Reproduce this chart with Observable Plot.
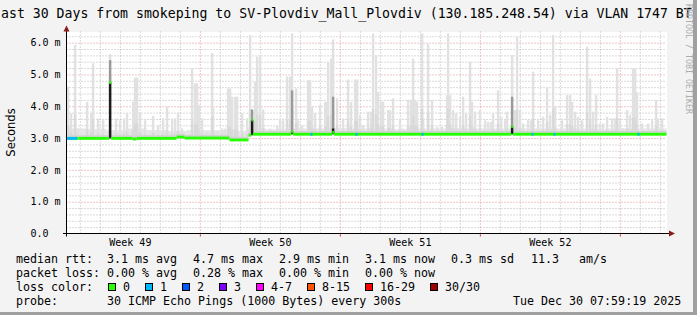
<!DOCTYPE html>
<html><head><meta charset="utf-8">
<script src="https://cdn.jsdelivr.net/npm/d3@7"></script>
<script src="https://cdn.jsdelivr.net/npm/@observablehq/plot@0.6"></script>
<style>
html,body{margin:0;padding:0;background:#f3f3f3}
#wrap{position:relative;width:697px;height:315px;background:#f3f3f3;overflow:hidden}
#wrap svg{position:absolute;left:0;top:0}
#bR{position:absolute;right:0;top:0;width:4px;height:315px;background:#a0a0a0}
#bB{position:absolute;left:0;bottom:0;width:697px;height:3px;background:#a0a0a0}
</style></head><body><div id="wrap"></div><script>
// ---------- data ----------
const titleText = "ast 30 Days from smokeping to SV-Plovdiv_Mall_Plovdiv (130.185.248.54) via VLAN 1747 BT";
const watermark = "RRDTOOL / TOBI OETIKER";
const yAxisTitle = "Seconds";
const startTime = "2025-11-30T07:59:19Z";
const endTime = "2025-12-30T07:59:19Z";
const yMajorTicks = [0, 1, 2, 3, 4, 5, 6];
const yTickLabels = ["0.0", "1.0 m", "2.0 m", "3.0 m", "4.0 m", "5.0 m", "6.0 m"];
const weekLabels = ["Week 49", "Week 50", "Week 51", "Week 52"];
const weekStarts = ["2025-11-30", "2025-12-07", "2025-12-14", "2025-12-21", "2025-12-28"];

// median rtt (ms), piecewise constant: day offset from start -> value
const medianStart = [0, 0.6, 2.13, 2.23, 3.3, 3.5, 5.5, 5.9, 8.15, 9.1, 9.24, 9.32, 11.24, 11.32, 13.29, 13.37, 22.24, 22.32];
const medianValue = [2.99, 2.99, 4.75, 2.99, 2.97, 2.99, 3.03, 3.0, 2.94, 3.09, 3.57, 3.12, 3.2, 3.12, 3.18, 3.12, 3.36, 3.12];

// intervals with 1 lost ping (day offsets)
const lossStart = [0.03, 12.2, 14.45, 17.75, 23.25, 24.35, 28.55];
const lossEnd   = [0.53, 12.3, 14.55, 17.85, 23.35, 24.45, 28.65];

// smoke spikes: day offset and max rtt (ms)
const spikeDay = [0.08,0.23,0.43,0.58,1.03,1.23,1.33,1.58,1.83,2.18,2.48,2.68,2.88,3.03,3.33,3.43,3.53,3.68,3.93,4.33,4.58,4.83,5.03,5.28,5.43,5.58,5.78,6.28,6.43,6.53,6.63,6.78,7.03,7.28,7.33,7.53,7.78,7.93,8.08,8.18,8.28,8.43,8.53,8.78,9.03,9.18,9.43,9.53,9.68,9.83,10.18,10.53,10.68,10.83,11.03,11.18,11.28,11.48,11.58,11.78,12.08,12.18,12.28,12.43,12.68,12.93,13.03,13.08,13.23,13.33,13.53,13.83,14.08,14.23,14.43,14.53,14.68,14.83,15.08,15.23,15.33,15.48,15.58,15.73,15.83,16.08,16.18,16.33,16.68,16.83,17.08,17.23,17.33,17.43,17.53,17.78,17.83,18.08,18.28,18.53,18.78,19.03,19.08,19.18,19.33,19.48,19.68,19.83,19.98,20.18,20.28,20.43,20.68,20.93,21.08,21.23,21.33,21.58,21.73,21.93,22.03,22.28,22.43,22.53,22.68,22.83,23.08,23.23,23.33,23.58,23.83,24.03,24.18,24.33,24.43,24.78,25.03,25.18,25.28,25.43,25.58,25.78,26.03,26.18,26.33,26.48,26.68,26.83,27.03,27.28,27.43,27.53,27.68,27.83,28.03,28.18,28.33,28.43,28.53,28.78,29.08,29.28,29.48,29.58,29.78];
const spikeMax = [4.62,3.78,5.93,3.3,4.14,3.78,5.35,3.62,3.56,5.64,3.62,3.56,3.62,3.78,4.14,4.9,4.9,3.78,3.56,3.7,3.4,3.62,3.99,3.62,3.62,3.8,3.3,5.19,4.72,4.72,4.04,3.62,3.2,5.67,3.95,3.2,3.3,3.3,4.56,4.56,4.3,4.3,4.3,3.78,3.62,6.24,4.77,5.56,5.56,3.9,3.3,3.4,3.62,3.56,4.93,4.93,6.29,4.56,3.56,3.4,4.82,4.82,3.99,3.78,4.04,4.14,4.14,5.4,5.5,6.1,4.25,3.62,4.84,4.14,4.84,4.84,3.73,3.41,3.83,3.83,6.29,5.61,4.45,4.14,4.14,3.88,3.88,4.25,3.62,3.3,4.2,4.2,5.5,4.2,4.14,6.29,3.62,5.95,4.2,3.35,3.35,4.35,6.29,4.35,3.88,3.78,3.67,4.3,3.78,5.4,4.14,3.83,3.88,3.56,3.51,3.51,3.78,4.5,3.67,3.56,3.83,5.61,3.88,6.19,3.88,3.46,3.56,3.56,5.09,3.56,3.67,4.61,3.73,6.24,3.99,3.56,4.35,4.35,4.14,3.83,3.67,3.56,5.87,4.87,3.83,4.35,3.46,3.46,3.67,3.62,3.62,5.19,3.56,3.3,3.88,3.73,5.19,5.19,4.45,3.46,3.46,3.56,4.2,3.62,3.62];

// low smoke level per day (ms)
const baseSmokeTop = [3.3,3.28,3.25,3.3,3.25,3.22,3.25,3.25,3.22,3.3,3.28,3.3,3.3,3.32,3.3,3.3,3.28,3.3,3.3,3.32,3.3,3.3,3.3,3.3,3.3,3.3,3.28,3.3,3.3,3.3];

// dense (dark) smoke columns
const denseDay = [2.18, 9.28, 11.28, 13.33, 22.28];
const denseTop = [4.75, 3.57, 3.2, 3.3, 3.36];
const denseMid = [5.45, 3.9, 4.5, 4.3, 4.3];

// legend
const lossLabels = ["0", "1", "2", "3", "4-7", "8-15", "16-29", "30/30"];
const lossColors = ["#26ff00", "#00b8ff", "#0059ff", "#7e00ff", "#ff00ff", "#ff5500", "#ff0000", "#a10000"];
const rttStats = ["3.1 ms avg", "4.7 ms max", "2.9 ms min", "3.1 ms now", "0.3 ms sd"];
const rttAms = ["11.3", "am/s"];
const lossStats = ["0.00 % avg", "0.28 % max", "0.00 % min", "0.00 % now"];
const probeText = "30 ICMP Echo Pings (1000 Bytes) every 300s";
const dateText = "Tue Dec 30 07:59:19 2025";

// ---------- build ----------
const DAY = 864e5;
const T0 = new Date(startTime), T1 = new Date(endTime);
const at = d => new Date(+T0 + d * DAY);
function medianAt(d) {
  let v = medianValue[0];
  for (let i = 0; i < medianStart.length; i++) if (medianStart[i] <= d) v = medianValue[i];
  return v;
}
const medianSegs = medianStart.map((s, i) => ({s, e: i + 1 < medianStart.length ? medianStart[i + 1] : 30, v: medianValue[i]}));
const lossSegs = lossStart.map((s, i) => ({s, e: lossEnd[i], v: medianAt((s + lossEnd[i]) / 2)}));
const spikes = spikeDay.map((d, i) => ({d, max: spikeMax[i], med: medianAt(d)}));
const baseSmoke = baseSmokeTop.map((t, i) => ({s: i, e: i + 1, top: t}));
const dense = denseDay.map((d, i) => ({d, top: denseTop[i], mid: denseMid[i], base: medianAt(d - 0.12)}));

const yMinor = d3.range(0.2, 6.35, 0.2).filter(v => Math.abs(v - Math.round(v)) > 0.05);
const weekLines = weekStarts.map(s => new Date(s + "T00:00:00Z")).filter(t => t > T0 && t < T1);
const dayLines = d3.utcDay.range(T0, T1).filter(t => t.getUTCDay() !== 0);
const weekMid = weekLabels.map((w, i) => new Date((+new Date(weekStarts[i] + "T00:00:00Z") + +new Date(weekStarts[i + 1] + "T00:00:00Z")) / 2));

const mono = "'DejaVu Sans Mono', monospace";
const SW = 0.06;
const plot = Plot.plot({
  width: 697, height: 315,
  marginLeft: 66.5, marginRight: 30.5, marginTop: 31.5, marginBottom: 81.5,
  style: {background: "transparent", fontFamily: mono, overflow: "visible"},
  x: {type: "utc", domain: [T0, T1], axis: null},
  y: {domain: [0, 6.35], axis: null},
  marks: [
    Plot.frame({fill: "white", stroke: "none"}),
    Plot.ruleY(yMinor, {stroke: "#b4b4b4", strokeDasharray: "1,2"}),
    Plot.ruleX(dayLines, {stroke: "#b4b4b4", strokeDasharray: "1,2"}),
    Plot.ruleY(yMajorTicks.filter(v => v > 0), {stroke: "#dc8c8c", strokeDasharray: "1,2"}),
    Plot.ruleX(weekLines, {stroke: "#dc8c8c", strokeDasharray: "1,2"}),
    // smoke
    Plot.rect(baseSmoke, {x1: d => at(d.s), x2: d => at(d.e), y1: d => medianAt(d.s + 0.5), y2: "top", fill: "#e6e6e6"}),
    Plot.rect(spikes, {x1: d => at(d.d - SW), x2: d => at(d.d + SW), y1: "med", y2: "max", fill: "#e1e1e1"}),
    Plot.rect(spikes, {x1: d => at(d.d - SW), x2: d => at(d.d + SW), y1: "med", y2: d => d.med + 0.25 * (d.max - d.med), fill: "#d9d9d9"}),
    Plot.rect(medianSegs, {x1: d => at(d.s), x2: d => at(d.e), y1: "v", y2: d => d.v + 0.1, fill: "#d2d2d2"}),
    Plot.rect(dense, {x1: d => at(d.d - 0.06), x2: d => at(d.d + 0.06), y1: "base", y2: "mid", fill: "#9a9a9a"}),
    Plot.rect(dense, {x1: d => at(d.d - 0.06), x2: d => at(d.d + 0.06), y1: "base", y2: "top", fill: "#1c1c1c"}),
    // median line coloured by loss
    Plot.rect(medianSegs, {x1: d => at(d.s), x2: d => at(d.e), y1: d => d.v - 0.045, y2: d => d.v + 0.045, fill: lossColors[0]}),
    Plot.rect(lossSegs, {x1: d => at(d.s), x2: d => at(d.e), y1: d => d.v - 0.045, y2: d => d.v + 0.045, fill: lossColors[1]}),
    // axis labels
    Plot.ruleX(weekLines, {y1: -0.1, y2: 0, stroke: "#d05050"}),
    Plot.text(yMajorTicks, {y: d => d, text: (d, i) => yTickLabels[i], frameAnchor: "left", dx: -36.5, textAnchor: "start", lineAnchor: "middle", fontSize: 10, fill: "#000", fontFamily: mono}),
    Plot.text(weekLabels, {x: (d, i) => weekMid[i], text: d => d, frameAnchor: "bottom", dy: 12, lineAnchor: "bottom", fontSize: 10, fill: "#000", fontFamily: mono})
  ]
});

const svg = d3.select(plot);
// axis lines with arrows
svg.append("line").attr("x1", 66.5).attr("x2", 66.5).attr("y1", 236.5).attr("y2", 29).attr("stroke", "#000");
svg.append("line").attr("x1", 63).attr("x2", 670).attr("y1", 233.5).attr("y2", 233.5).attr("stroke", "#000");
svg.append("path").attr("d", "M63.5,31.5L69.5,31.5L66.5,25.5Z").attr("fill", "#8b1a1a");
svg.append("path").attr("d", "M669,230.5L669,236.5L675,233.5Z").attr("fill", "#8b1a1a");

// title
svg.append("text").attr("x", 1).attr("y", 18.3).attr("text-anchor", "start").attr("font-size", 13.2).attr("font-family", mono).attr("fill", "#000").text(titleText);
// watermark
svg.append("text").attr("transform", "translate(685.5,4) rotate(90)").attr("text-anchor", "start").attr("font-size", 8.3).attr("font-family", mono).attr("fill", "#adadad").text(watermark);
// y axis title
svg.append("text").attr("transform", "translate(15,132.5) rotate(-90)").attr("text-anchor", "middle").attr("font-size", 11.5).attr("font-family", "'DejaVu Sans', sans-serif").attr("fill", "#000").text(yAxisTitle);

// legend
const L = svg.append("g").attr("font-family", mono).attr("font-size", 11.65).attr("fill", "#000").attr("text-anchor", "start");
const row = (y, label) => L.append("text").attr("x", 16).attr("y", y).text(label);
const cols = [107, 193, 279, 365, 451];
row(262.7, "median rtt:");
rttStats.forEach((t, i) => L.append("text").attr("x", cols[i]).attr("y", 262.7).text(t));
L.append("text").attr("x", 531).attr("y", 262.7).text(rttAms[0]);
L.append("text").attr("x", 579).attr("y", 262.7).text(rttAms[1]);
row(276.7, "packet loss:");
lossStats.forEach((t, i) => L.append("text").attr("x", cols[i]).attr("y", 276.7).text(t));
row(291, "loss color:");
const boxX = [108.5, 145.5, 182.5, 219.5, 256.5, 307.5, 365.5, 430.5];
lossLabels.forEach((t, i) => {
  L.append("rect").attr("x", boxX[i]).attr("y", 283.5).attr("width", 7).attr("height", 7).attr("fill", lossColors[i]).attr("stroke", "#000");
  L.append("text").attr("x", boxX[i] + 14.5).attr("y", 291).text(t);
});
row(305, "probe:");
L.append("text").attr("x", 107).attr("y", 305).text(probeText);
L.append("text").attr("x", 513).attr("y", 305).text(dateText);

const wrap = document.getElementById("wrap");
wrap.appendChild(plot);
const bR = document.createElement("div"); bR.id = "bR"; wrap.appendChild(bR);
const bB = document.createElement("div"); bB.id = "bB"; wrap.appendChild(bB);
</script></body></html>
